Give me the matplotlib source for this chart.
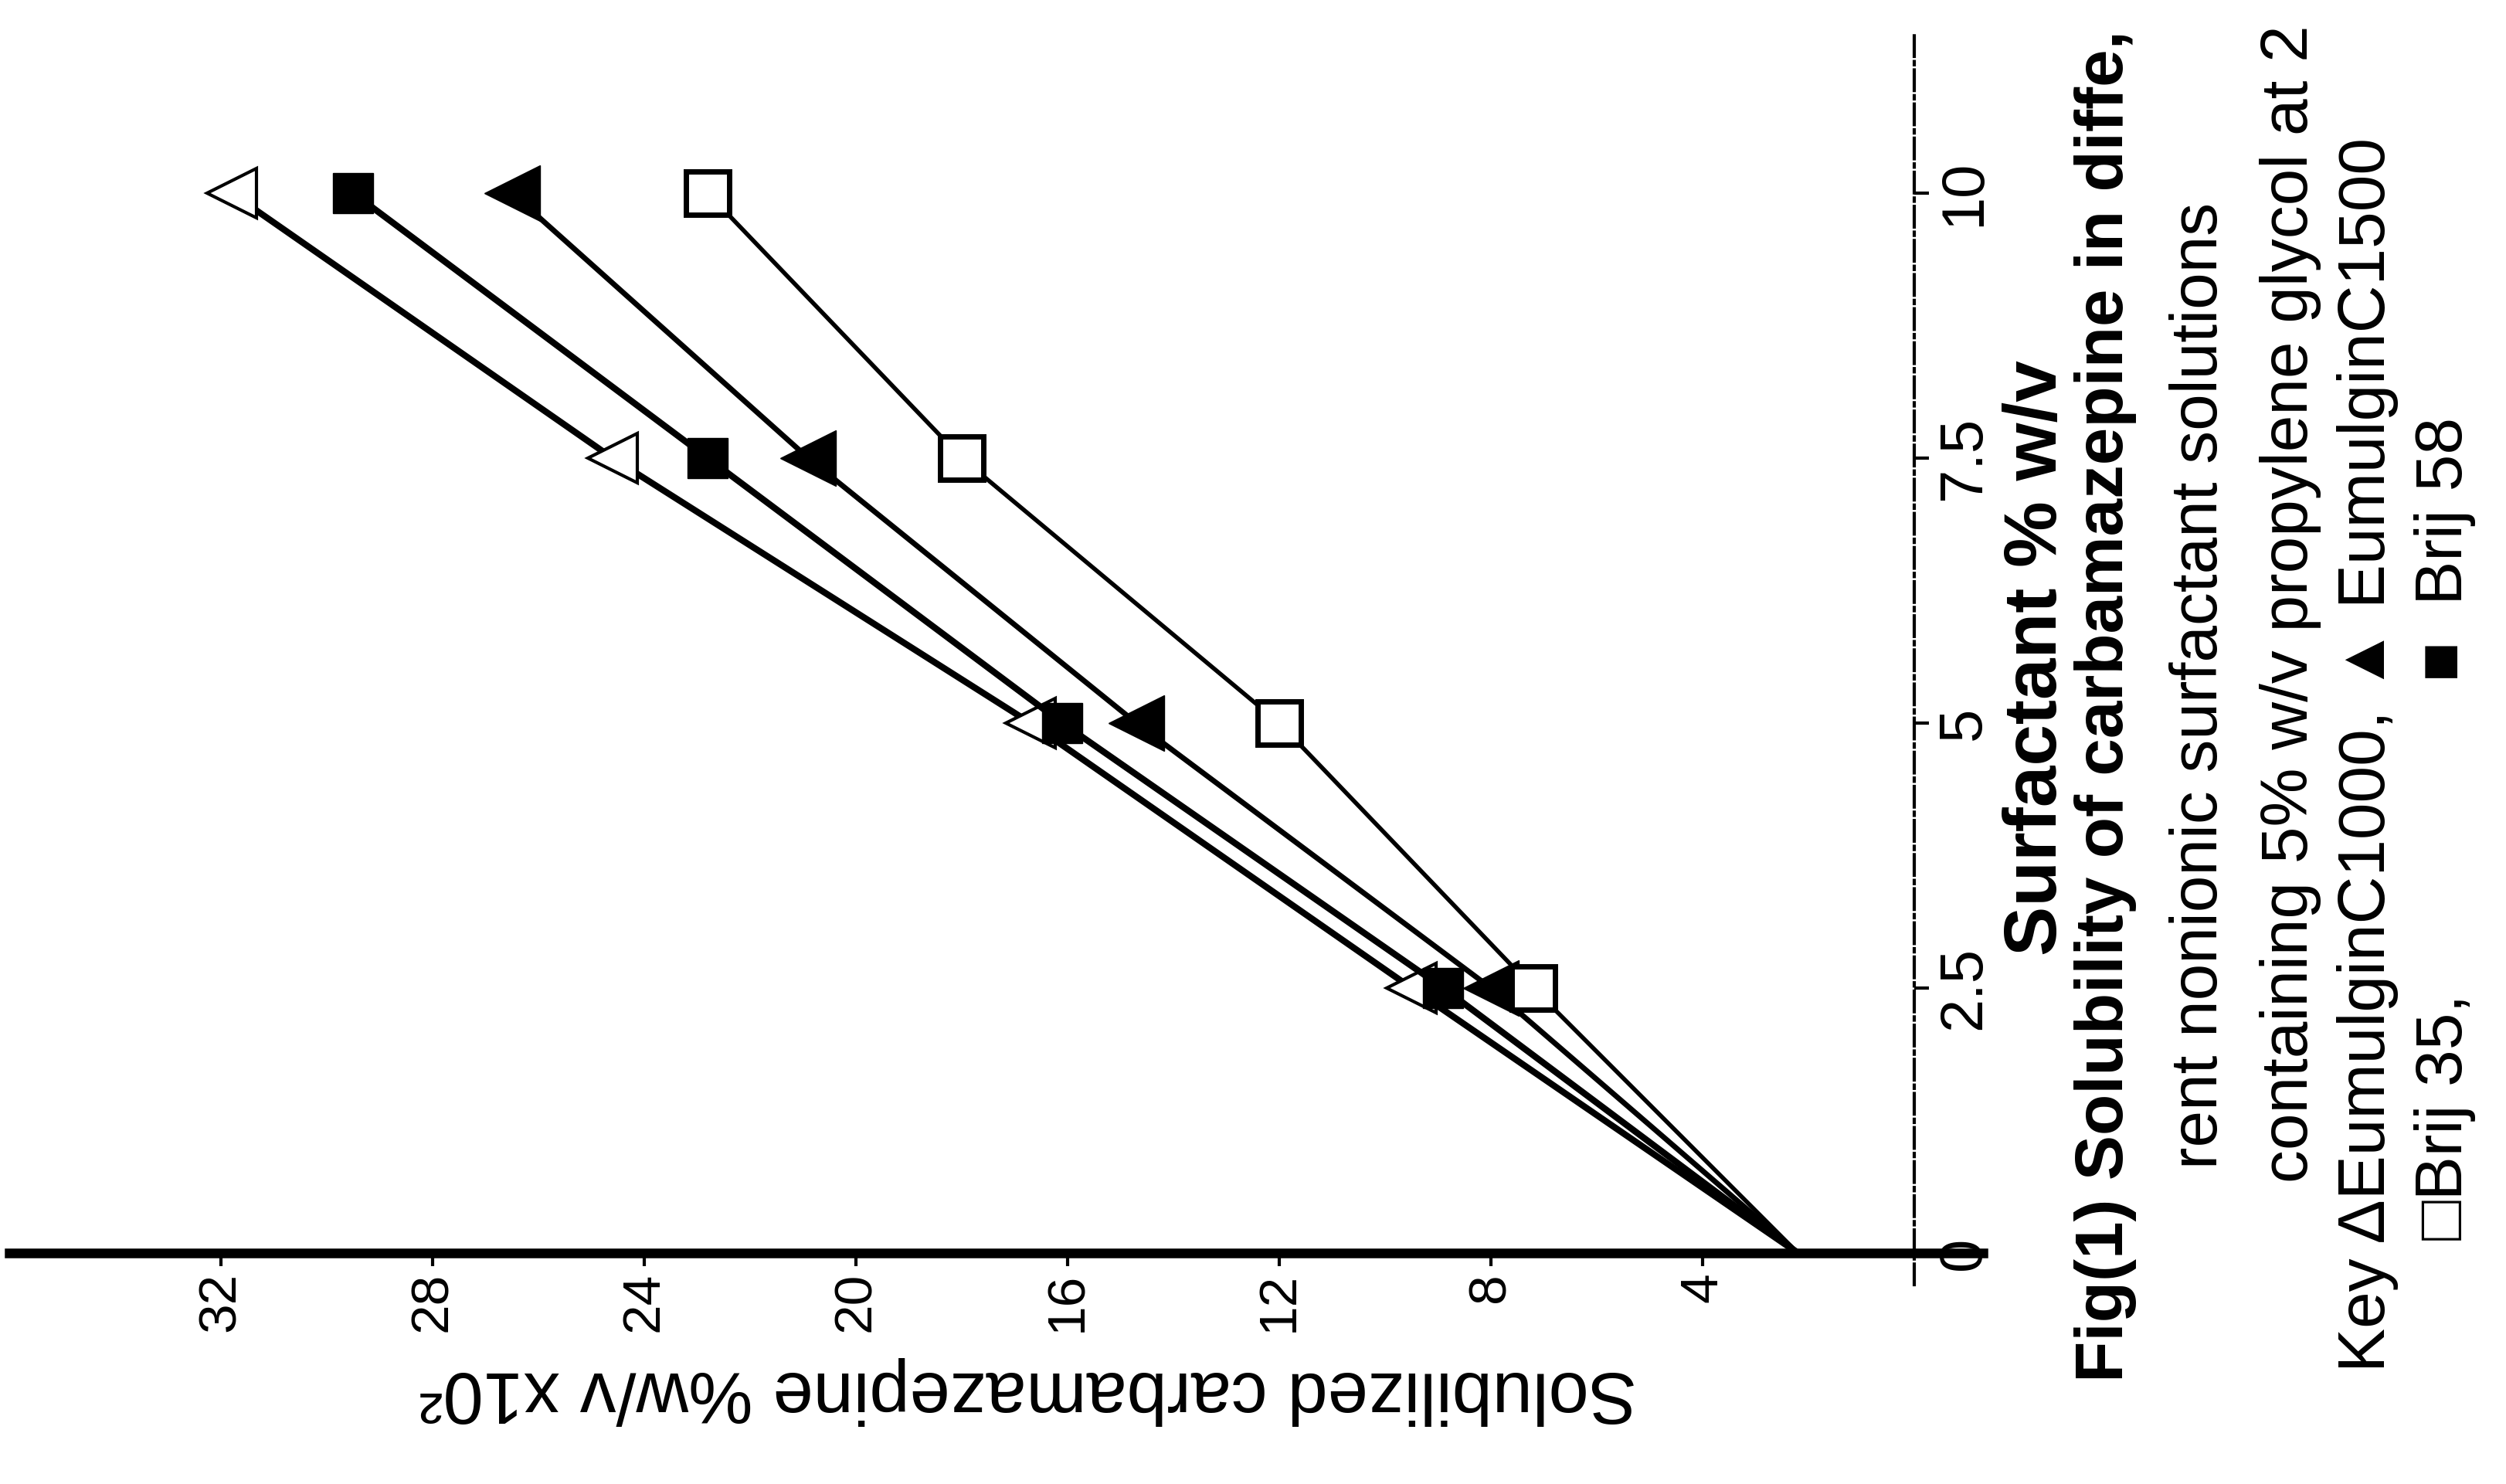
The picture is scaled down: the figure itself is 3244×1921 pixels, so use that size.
import matplotlib
matplotlib.use('Agg')
import matplotlib.pyplot as plt
from matplotlib import font_manager as fm

# values (solubility in %w/v x10^2)
surfactant = [0, 2.5, 5, 7.5, 10]
eumulgin_c1000 = [2.2, 9.5, 16.7, 24.6, 31.8]
brij_58 = [2.2, 8.9, 16.1, 22.8, 29.5]
eumulgin_c1500 = [2.2, 8.0, 14.7, 20.9, 26.5]
brij_35 = [2.2, 7.2, 12.0, 18.0, 22.8]

sol_ticks = [4, 8, 12, 16, 20, 24, 28, 32]
surf_ticks = [0, 2.5, 5, 7.5, 10]
surf_ticklabels = ['0', '2.5', '5', '7.5', '10']

caption = [
    'Fig(1) Solubility of carbamazepine in diffe,',
    'rent nonionic surfactant solutions',
    'containing 5% w/v propylene glycol at 2',
]
key_names = ['\u0394EumulginC1000,', '\u25b2 EumulginC1500', '\u25a1Brij 35,', '\u25a0  Brij 58']

names = {f.name for f in fm.fontManager.ttflist}
narrow = 'Liberation Sans Narrow' if 'Liberation Sans Narrow' in names else 'Liberation Sans'
fam = [narrow, 'DejaVu Sans']

W, H = 3244, 1921
fig = plt.figure(figsize=(W / 100, H / 100), dpi=100)

# the scan is the chart turned on its side: solubility runs right->left,
# surfactant runs bottom->top, origin at pixel (2478, 1622)
ox, oy = 2478, 1622
sx, sy = 68.5, 137.2
xl, xr = 36, -1.3
yb, yt = -0.3, 11.5
ax = fig.add_axes([(ox - xl * sx) / W, (H - oy - (0 - yb) * sy) / H,
                   (xl - xr) * sx / W, (yt - yb) * sy / H])
ax.set_xlim(xl, xr)
ax.set_ylim(yb, yt)

ax.plot(eumulgin_c1000, surfactant, color='black', lw=6, marker='<', ms=46,
        mfc='white', mec='black', mew=3, markevery=[1, 2, 3, 4], zorder=3)
ax.plot(brij_58, surfactant, color='black', lw=6, marker='s', ms=37,
        mfc='black', mec='black', markevery=[1, 2, 3, 4], zorder=3)
ax.plot(eumulgin_c1500, surfactant, color='black', lw=5, marker='<', ms=52,
        mfc='black', mec='black', markevery=[1, 2, 3, 4], zorder=3)
ax.plot(brij_35, surfactant, color='black', lw=4, marker='s', ms=40,
        mfc='white', mec='black', mew=5, markevery=[1, 2, 3, 4], zorder=3)

for s in ['top', 'left']:
    ax.spines[s].set_visible(False)
ax.spines['bottom'].set_position(('data', 0))
ax.spines['right'].set_position(('data', 0))
ax.spines['bottom'].set_linewidth(9)
ax.spines['right'].set_linewidth(3)
ax.spines['right'].set_linestyle('-.')

ax.set_xticks(sol_ticks)
ax.set_xticklabels([str(t) for t in sol_ticks], rotation=90, family=fam, fontsize=50)
ax.yaxis.tick_right()
ax.set_yticks(surf_ticks)
ax.set_yticklabels(surf_ticklabels, rotation=90, va='center', family=fam, fontsize=56)
ax.tick_params(axis='x', length=12, width=3, pad=6)
ax.tick_params(axis='y', length=14, width=3, pad=6)

renderer = fig.canvas.get_renderer()


def fit(t, length, along='height'):
    # scale the font so the text covers the same span as in the scan
    bb = t.get_window_extent(renderer)
    cur = bb.height if along == 'height' else bb.width
    t.set_fontsize(t.get_fontsize() * length / cur)
    return t.get_fontsize()


def side_text(x, y0, s, bold=False, size=60):
    return fig.text(x / W, 1 - y0 / H, s, rotation=90, ha='center', va='bottom',
                    family=fam, fontsize=size,
                    fontweight='bold' if bold else 'normal')


# axis title of the solubility axis, upside down as in the scan
title = fig.text(1331 / W, 1 - 1800 / H, 'Solubilized carbamazepine %w/v x10\u00b2',
                 rotation=180, ha='center', va='center', family=fam, fontsize=60)
fit(title, 2120 - 542, along='width')

t = side_text(2637, 1237, 'Surfactant % w/v', bold=True)
fit(t, 1237 - 465)
t = side_text(2725, 1789, caption[0], bold=True)
fit(t, 1789 - 37)

# the plain caption lines share one size, the smallest that keeps them all inside
plain = [side_text(2848, 1513, caption[1]),
         side_text(2965, 1531, caption[2]),
         side_text(3065, 1776, 'Key ' + key_names[0] + ' ' + key_names[1])]
sizes = [fit(plain[0], 1513 - 122), fit(plain[1], 1531 - 30), fit(plain[2], 1776 - 160)]
size = min(sizes)
for p in plain:
    p.set_fontsize(size)
side_text(3165, 1605, key_names[2], size=size)
side_text(3165, 882, key_names[3], size=size)

fig.savefig('out.png', dpi=100, facecolor='white')
